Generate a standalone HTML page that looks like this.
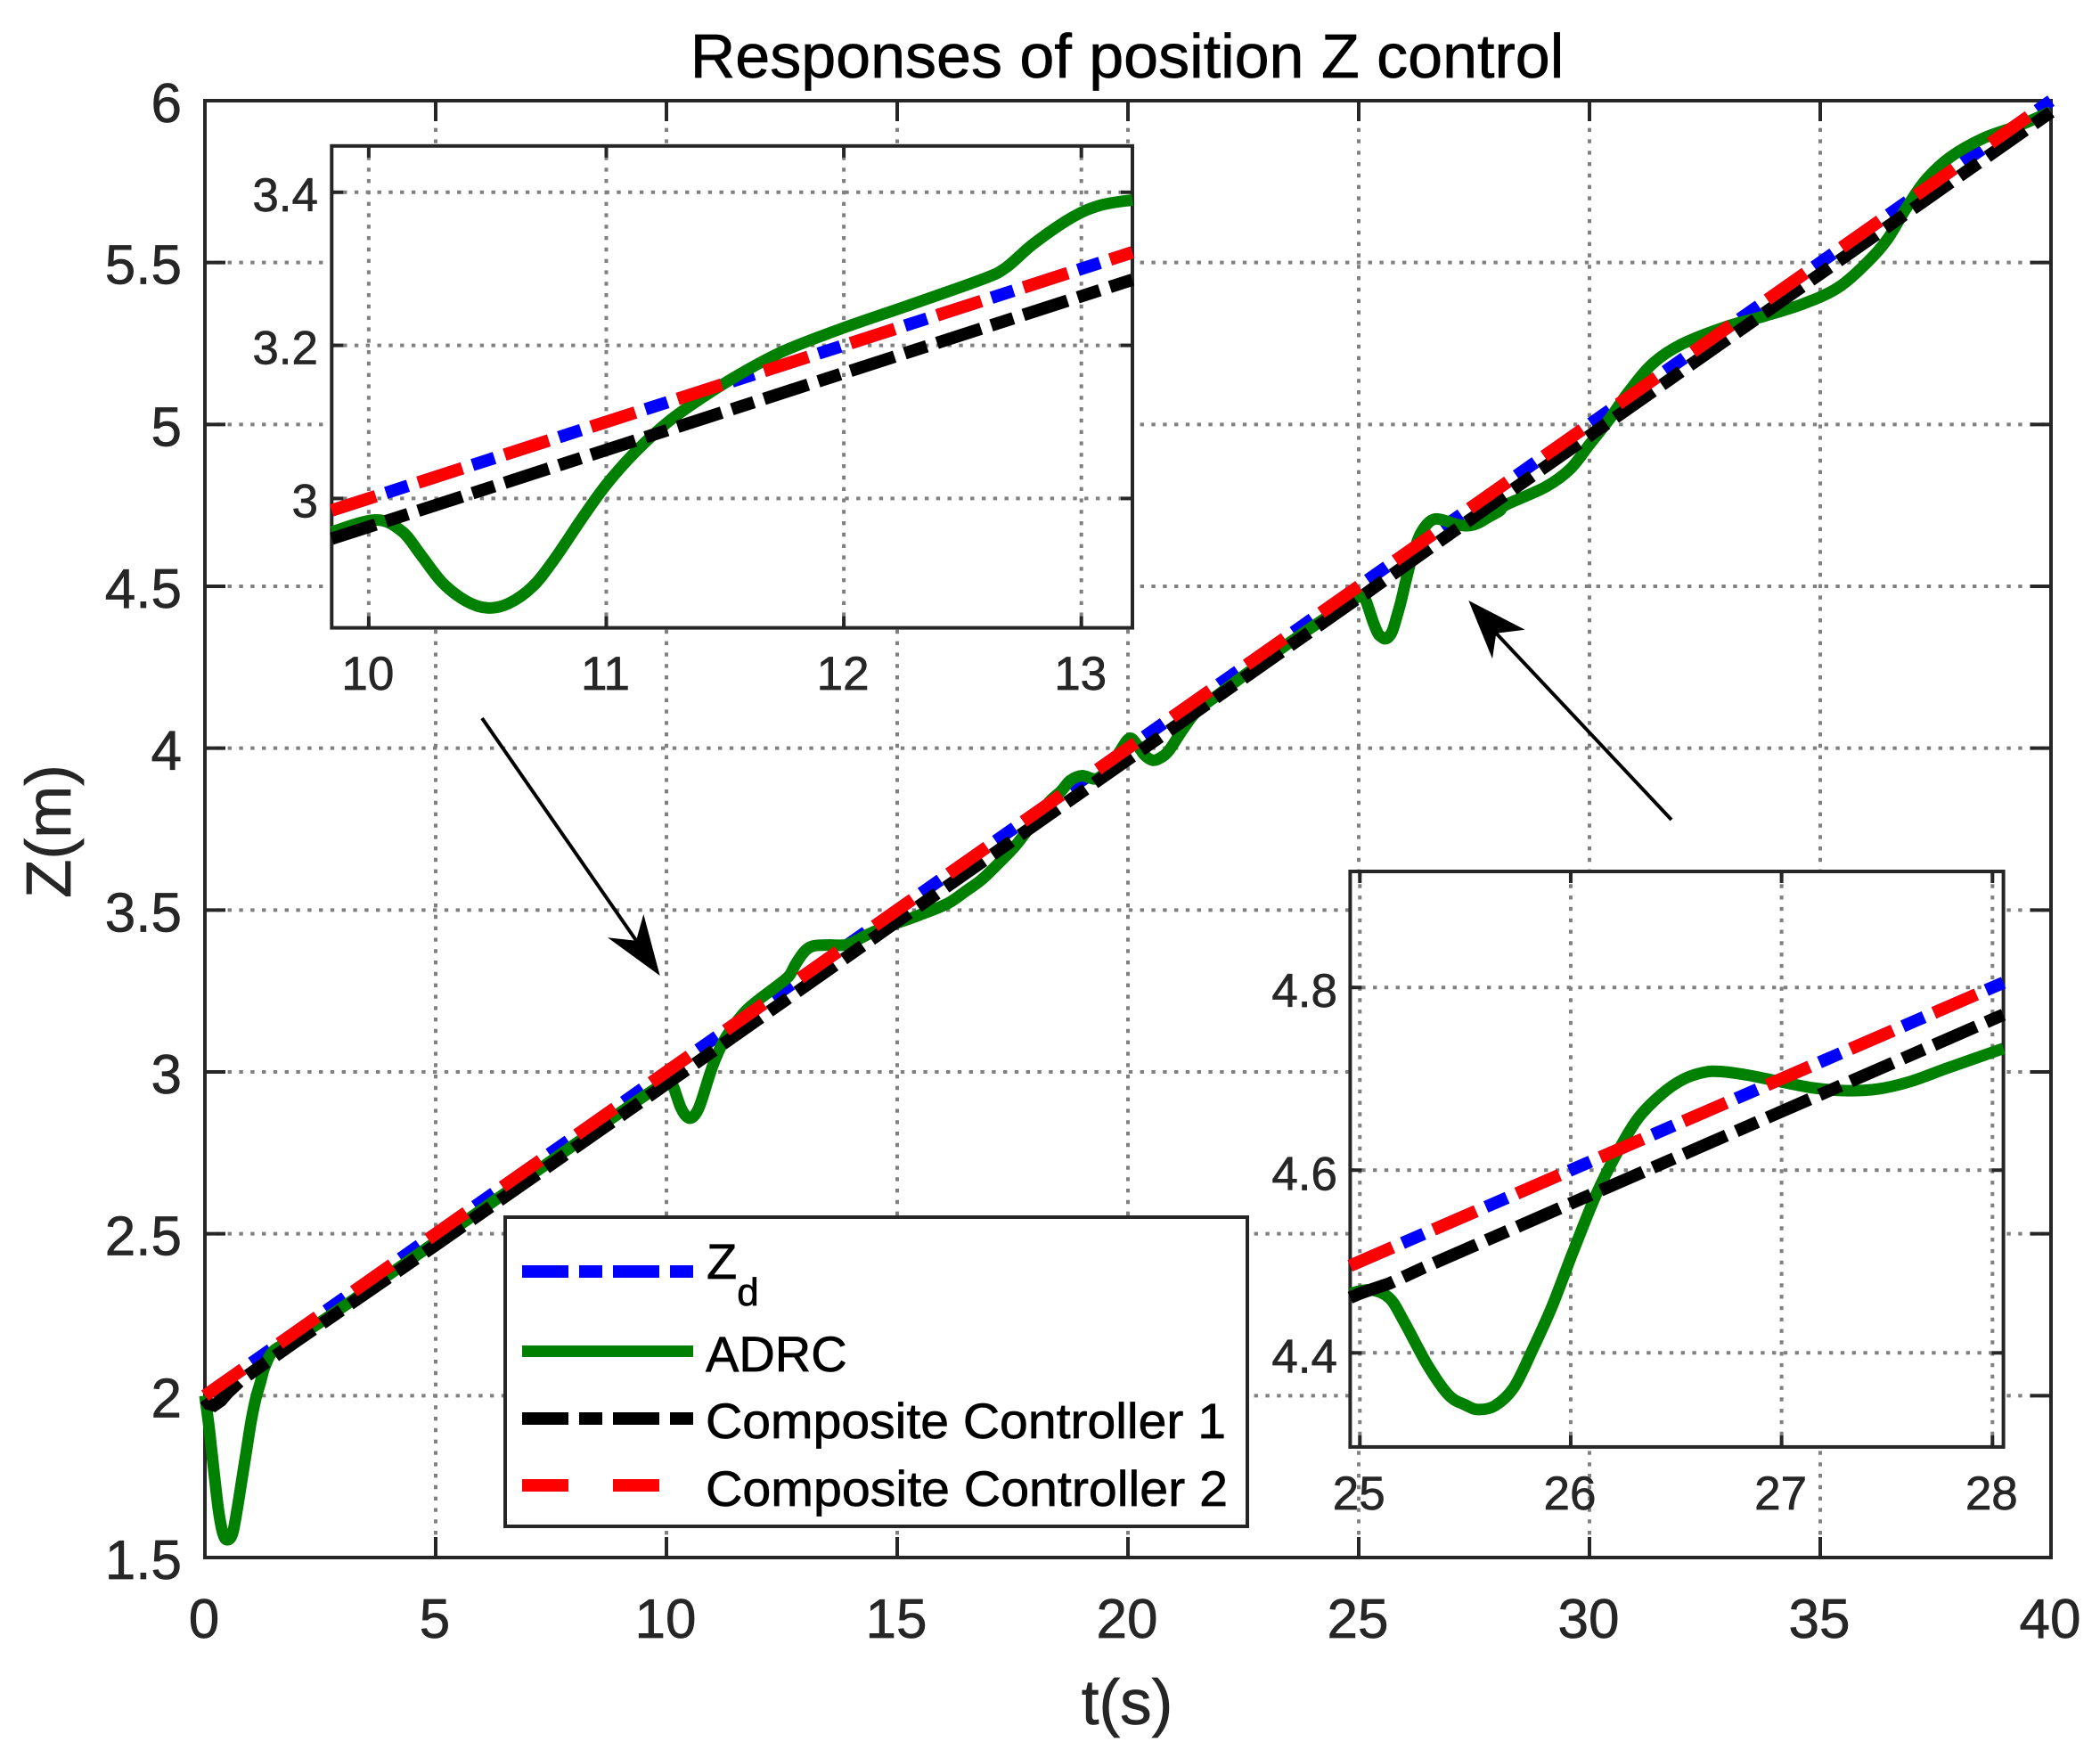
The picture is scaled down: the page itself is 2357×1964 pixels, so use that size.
<!DOCTYPE html>
<html>
<head>
<meta charset="utf-8">
<title>Responses of position Z control</title>
<style>
html,body{margin:0;padding:0;background:#fff;}
svg{display:block;}
text{font-family:"Liberation Sans",Arial,sans-serif;stroke-width:0.7px;}
.ink-black{fill:#000;stroke:#000;}
.ink-axis{fill:#262626;stroke:#262626;}
</style>
</head>
<body>
<svg id="figure" xmlns="http://www.w3.org/2000/svg" width="2357" height="1964" viewBox="0 0 2357 1964">
  <rect x="0" y="0" width="2357" height="1964" fill="#ffffff"/>
  <g id="main-layer"></g>
  <g id="arrow-layer-under">
    <line x1="541" y1="806" x2="722" y2="1067" stroke="#000" stroke-width="4"/>
    <polygon points="740.7,1095 722.3,1026 714,1055.7 682,1052.3" fill="#000"/>
    <line x1="1876" y1="920" x2="1672" y2="703" stroke="#000" stroke-width="4"/>
    <polygon points="1648.3,674 1711.7,706.7 1679.3,710.7 1675,739.3" fill="#000"/>
  </g>
  <g id="inset-one-layer"></g>
  <g id="inset-two-layer"></g>
  <g>
    <rect x="567" y="1366" width="833" height="347" fill="#ffffff" stroke="#262626" stroke-width="4"/>
    <line x1="586" y1="1427" x2="778" y2="1427" stroke="#0000ff" stroke-width="14" stroke-dasharray="52 12 26 12"/>
    <text class="ink-black" x="793" y="1435" font-size="56">Z<tspan font-size="44" dy="30">d</tspan></text>
    <line x1="586" y1="1516.5" x2="778" y2="1516.5" stroke="#008000" stroke-width="13"/>
    <text class="ink-black" x="792" y="1539" font-size="56">ADRC</text>
    <line x1="586" y1="1592" x2="778" y2="1592" stroke="#000000" stroke-width="14" stroke-dasharray="52 12 26 12"/>
    <text class="ink-black" x="792" y="1614" font-size="56" textLength="584" lengthAdjust="spacingAndGlyphs">Composite Controller 1</text>
    <line x1="586" y1="1667" x2="778" y2="1667" stroke="#ff0000" stroke-width="14" stroke-dasharray="52 50"/>
    <text class="ink-black" x="792" y="1690" font-size="56" textLength="586" lengthAdjust="spacingAndGlyphs">Composite Controller 2</text>
  </g>
  <text class="ink-black" x="1265" y="87" font-size="70" text-anchor="middle">Responses of position Z control</text>
  <text class="ink-axis" x="1265" y="1935" font-size="71" text-anchor="middle">t(s)</text>
  <text class="ink-axis" transform="translate(79,933) rotate(-90)" font-size="71" text-anchor="middle">Z(m)</text>
</svg>
<script>
// ---- chart data ----
var mainXTicks = [0, 5, 10, 15, 20, 25, 30, 35, 40];
var mainYTicks = [1.5, 2, 2.5, 3, 3.5, 4, 4.5, 5, 5.5, 6];
var insetOneXTicks = [10, 11, 12, 13];
var insetOneYTicks = [3, 3.2, 3.4];
var insetTwoXTicks = [25, 26, 27, 28];
var insetTwoYTicks = [4.4, 4.6, 4.8];

var zdTime = [0, 40];
var zdValue = [2, 6];

var composite2Time = [0, 40];
var composite2Value = [2, 6];

var composite1Time = [0, 0.08, 0.2, 0.35, 0.5, 0.8, 1.2, 2, 5, 10, 15, 20, 25, 25.05, 25.14, 25.3, 28, 30, 35, 40];
var composite1Value = [1.99, 1.975, 1.97, 1.985, 2.01, 2.05, 2.09, 2.17, 2.465, 2.963, 3.465, 3.965, 4.465, 4.469, 4.476, 4.493, 4.765, 4.965, 5.465, 5.965];

var adrcTime = [0, 0.1, 0.2, 0.3, 0.4, 0.5, 0.6, 0.7, 0.8, 0.9, 1.0, 1.1, 1.2, 1.3, 1.5, 2, 3, 4, 5, 6, 7, 8, 9, 9.85, 10.03, 10.14, 10.22, 10.31, 10.41, 10.5, 10.59, 10.69, 10.78, 10.9, 11, 11.12, 11.26, 11.4, 11.56, 11.75, 12, 12.28, 12.58, 12.68, 12.8, 12.96, 13.08, 13.215, 13.5, 13.87, 14.1, 14.37, 14.7, 15, 15.47, 16.09, 16.5, 16.83, 17.2, 17.57, 18, 18.3, 18.55, 18.75, 19, 19.29, 19.5, 19.8, 20.03, 20.2, 20.35, 20.53, 20.7, 20.89, 21.2, 21.5, 22, 23, 24, 24.954, 25.05, 25.14, 25.21, 25.32, 25.42, 25.5, 25.56, 25.64, 25.73, 25.82, 25.91, 26.01, 26.12, 26.22, 26.32, 26.43, 26.53, 26.63, 26.71, 26.84, 26.99, 27.15, 27.3, 27.46, 27.61, 27.79, 28.05, 28.21, 29.05, 29.58, 30, 30.42, 30.85, 31.37, 32, 32.96, 33.8, 34.64, 35.38, 36, 36.44, 36.86, 37.28, 37.81, 38.55, 39.3, 39.97];
var adrcValue = [2, 1.89, 1.76, 1.64, 1.57, 1.555, 1.575, 1.65, 1.74, 1.83, 1.92, 1.99, 2.04, 2.09, 2.14, 2.18, 2.275, 2.375, 2.475, 2.575, 2.675, 2.775, 2.875, 2.957, 2.972, 2.957, 2.926, 2.89, 2.866, 2.857, 2.863, 2.885, 2.92, 2.975, 3.018, 3.06, 3.1, 3.131, 3.162, 3.193, 3.223, 3.253, 3.286, 3.301, 3.333, 3.367, 3.383, 3.39, 3.392, 3.392, 3.405, 3.425, 3.445, 3.46, 3.484, 3.52, 3.56, 3.594, 3.645, 3.7, 3.78, 3.835, 3.867, 3.9, 3.915, 3.905, 3.925, 3.985, 4.03, 4.01, 3.98, 3.963, 3.97, 3.993, 4.06, 4.115, 4.17, 4.275, 4.375, 4.465, 4.469, 4.46, 4.434, 4.387, 4.354, 4.343, 4.338, 4.342, 4.362, 4.404, 4.45, 4.51, 4.573, 4.619, 4.657, 4.683, 4.699, 4.707, 4.708, 4.704, 4.697, 4.69, 4.687, 4.689, 4.697, 4.712, 4.733, 4.753, 4.807, 4.862, 4.938, 5.014, 5.101, 5.188, 5.248, 5.302, 5.335, 5.373, 5.422, 5.498, 5.569, 5.667, 5.754, 5.825, 5.885, 5.923, 5.966];

// ---- drawing helpers ----
var SVGNS = 'http://www.w3.org/2000/svg';
var AXIS_COLOR = '#262626';
var GRID_COLOR = '#808080';
var DASH_WIDTH = 14;
var SOLID_WIDTH = 13;
var DASH_DOT = '52 12 26 12';
var DASHED = '52 50';

function make(tag, parent) {
  var el = document.createElementNS(SVGNS, tag);
  parent.appendChild(el);
  return el;
}

function scale(d0, d1, p0, p1) {
  return function (v) { return p0 + (v - d0) * (p1 - p0) / (d1 - d0); };
}

// Cut a series to a time window, interpolating values on the window edges.
function slice(times, values, tMin, tMax) {
  var outT = [], outV = [];
  var margin = 0.03;
  function at(t) {
    for (var k = 0; k < times.length - 1; k++) {
      if (t >= times[k] && t <= times[k + 1]) {
        return values[k] + (values[k + 1] - values[k]) * (t - times[k]) / (times[k + 1] - times[k]);
      }
    }
    return values[values.length - 1];
  }
  outT.push(tMin); outV.push(at(tMin));
  for (var i = 0; i < times.length; i++) {
    if (times[i] > tMin + margin && times[i] < tMax - margin) { outT.push(times[i]); outV.push(values[i]); }
  }
  outT.push(tMax); outV.push(at(tMax));
  return { t: outT, v: outV };
}

function polyPath(times, values, X, Y) {
  var d = '';
  for (var i = 0; i < times.length; i++) {
    d += (i ? 'L' : 'M') + X(times[i]).toFixed(2) + ' ' + Y(values[i]).toFixed(2);
  }
  return d;
}

function smoothPath(times, values, X, Y) {
  var pts = [];
  for (var i = 0; i < times.length; i++) { pts.push([X(times[i]), Y(values[i])]); }
  var d = 'M' + pts[0][0].toFixed(2) + ' ' + pts[0][1].toFixed(2);
  for (var j = 0; j < pts.length - 1; j++) {
    var p0 = pts[Math.max(j - 1, 0)], p1 = pts[j], p2 = pts[j + 1], p3 = pts[Math.min(j + 2, pts.length - 1)];
    var c1x = p1[0] + (p2[0] - p0[0]) / 6, c1y = p1[1] + (p2[1] - p0[1]) / 6;
    var c2x = p2[0] - (p3[0] - p1[0]) / 6, c2y = p2[1] - (p3[1] - p1[1]) / 6;
    d += 'C' + c1x.toFixed(2) + ' ' + c1y.toFixed(2) + ' ' + c2x.toFixed(2) + ' ' + c2y.toFixed(2) + ' ' + p2[0].toFixed(2) + ' ' + p2[1].toFixed(2);
  }
  return d;
}

function drawAxes(layer, box, opts) {
  var X = scale(box.xMin, box.xMax, box.left, box.right);
  var Y = scale(box.yMin, box.yMax, box.bottom, box.top);

  var bg = make('rect', layer);
  
  
  bg.setAttribute('x', box.left);
  bg.setAttribute('y', box.top);
  bg.setAttribute('width', box.right - box.left);
  bg.setAttribute('height', box.bottom - box.top);
  bg.setAttribute('fill', '#ffffff');

  opts.xTicks.forEach(function (v) {
    var px = X(v);
    var g = make('line', layer);
    
    
    g.setAttribute('x1', px); g.setAttribute('x2', px);
    g.setAttribute('y1', box.bottom); g.setAttribute('y2', box.top);
    g.setAttribute('stroke', GRID_COLOR); g.setAttribute('stroke-width', 4);
    g.setAttribute('stroke-dasharray', '4.4 8.4');

    [[box.bottom, box.bottom - opts.tickLen], [box.top, box.top + opts.tickLen]].forEach(function (e) {
      var t = make('line', layer);
      
      
      t.setAttribute('x1', px); t.setAttribute('x2', px);
      t.setAttribute('y1', e[0]); t.setAttribute('y2', e[1]);
      t.setAttribute('stroke', AXIS_COLOR); t.setAttribute('stroke-width', 4);
    });

    var lab = make('text', layer);
    
    
    lab.setAttribute('class', 'ink-axis');
    lab.setAttribute('x', px - 1);
    lab.setAttribute('y', opts.xLabelBaseline);
    lab.setAttribute('font-size', opts.fontSize);
    lab.setAttribute('text-anchor', 'middle');
    lab.textContent = String(v);
  });

  opts.yTicks.forEach(function (v) {
    var py = Y(v);
    var g = make('line', layer);
    
    
    g.setAttribute('x1', box.left); g.setAttribute('x2', box.right);
    g.setAttribute('y1', py); g.setAttribute('y2', py);
    g.setAttribute('stroke', GRID_COLOR); g.setAttribute('stroke-width', 4);
    g.setAttribute('stroke-dasharray', '4.4 8.4');

    [[box.left, box.left + opts.tickLen], [box.right, box.right - opts.tickLen]].forEach(function (e) {
      var t = make('line', layer);
      
      
      t.setAttribute('y1', py); t.setAttribute('y2', py);
      t.setAttribute('x1', e[0]); t.setAttribute('x2', e[1]);
      t.setAttribute('stroke', AXIS_COLOR); t.setAttribute('stroke-width', 4);
    });

    var lab = make('text', layer);
    
    
    lab.setAttribute('class', 'ink-axis');
    lab.setAttribute('x', opts.yLabelRight);
    lab.setAttribute('y', py + opts.yLabelDrop);
    lab.setAttribute('font-size', opts.fontSize);
    lab.setAttribute('text-anchor', 'end');
    lab.textContent = String(v);
  });

  var frame = make('rect', layer);
  
  
  frame.setAttribute('x', box.left);
  frame.setAttribute('y', box.top);
  frame.setAttribute('width', box.right - box.left);
  frame.setAttribute('height', box.bottom - box.top);
  frame.setAttribute('fill', 'none');
  frame.setAttribute('stroke', AXIS_COLOR);
  frame.setAttribute('stroke-width', 4);

  var zd = slice(zdTime, zdValue, box.tStart, box.tEnd);
  var lineZd = make('path', layer);
  
  
  lineZd.setAttribute('d', polyPath(zd.t, zd.v, X, Y));
  lineZd.setAttribute('fill', 'none');
  lineZd.setAttribute('stroke', '#0000ff');
  lineZd.setAttribute('stroke-width', DASH_WIDTH);
  lineZd.setAttribute('stroke-dasharray', DASH_DOT);

  var adrc = slice(adrcTime, adrcValue, box.tStart, box.tEnd);
  var lineAdrc = make('path', layer);
  
  
  lineAdrc.setAttribute('d', smoothPath(adrc.t, adrc.v, X, Y));
  lineAdrc.setAttribute('fill', 'none');
  lineAdrc.setAttribute('stroke', '#008000');
  lineAdrc.setAttribute('stroke-width', SOLID_WIDTH);

  var c1 = slice(composite1Time, composite1Value, box.tStart, box.tEnd);
  var lineC1 = make('path', layer);
  
  
  lineC1.setAttribute('d', polyPath(c1.t, c1.v, X, Y));
  lineC1.setAttribute('fill', 'none');
  lineC1.setAttribute('stroke', '#000000');
  lineC1.setAttribute('stroke-width', DASH_WIDTH);
  lineC1.setAttribute('stroke-dasharray', DASH_DOT);

  var c2 = slice(composite2Time, composite2Value, box.tStart, box.tEnd);
  var lineC2 = make('path', layer);
  
  
  lineC2.setAttribute('d', polyPath(c2.t, c2.v, X, Y));
  lineC2.setAttribute('fill', 'none');
  lineC2.setAttribute('stroke', '#ff0000');
  lineC2.setAttribute('stroke-width', DASH_WIDTH);
  lineC2.setAttribute('stroke-dasharray', DASHED);
}

drawAxes(document.getElementById('main-layer'),
  { left: 230, right: 2302, top: 113, bottom: 1748, xMin: 0, xMax: 40, yMin: 1.5, yMax: 6, tStart: 0, tEnd: 40 },
  { xTicks: mainXTicks, yTicks: mainYTicks, tickLen: 23, fontSize: 62, xLabelBaseline: 1838, yLabelRight: 204, yLabelDrop: 24 });

drawAxes(document.getElementById('inset-one-layer'),
  { left: 372.3, right: 1271, top: 163.8, bottom: 704.6, xMin: 9.844, xMax: 13.215, yMin: 2.831, yMax: 3.4605, tStart: 9.844, tEnd: 13.215 },
  { xTicks: insetOneXTicks, yTicks: insetOneYTicks, tickLen: 13, fontSize: 53, xLabelBaseline: 774, yLabelRight: 357, yLabelDrop: 21 });

drawAxes(document.getElementById('inset-two-layer'),
  { left: 1515.4, right: 2248.6, top: 978, bottom: 1623.9, xMin: 24.954, xMax: 28.052, yMin: 4.297, yMax: 4.927, tStart: 24.954, tEnd: 28.052 },
  { xTicks: insetTwoXTicks, yTicks: insetTwoYTicks, tickLen: 13, fontSize: 53, xLabelBaseline: 1694, yLabelRight: 1501, yLabelDrop: 22 });
</script>
</body>
</html>
